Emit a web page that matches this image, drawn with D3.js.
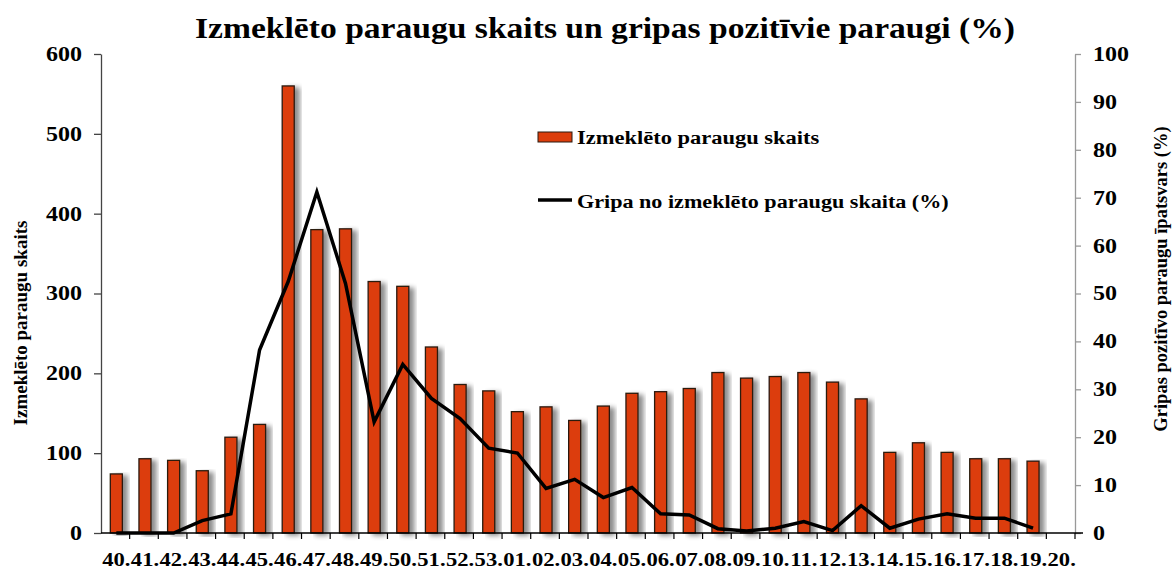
<!DOCTYPE html>
<html>
<head>
<meta charset="utf-8">
<script src="https://cdn.jsdelivr.net/npm/d3@7"></script>
<style>
body { margin: 0; background: #fff; }
svg { display: block; font-family: "Liberation Serif", "Times New Roman", serif; font-weight: bold; }
</style>
</head>
<body>
<svg></svg>
<script>
var weeks = ["40.","41.","42.","43.","44.","45.","46.","47.","48.","49.","50.","51.","52.","53.",
	"01.","02.","03.","04.","05.","06.","07.","08.","09.","10.","11.","12.","13.","14.","15.","16.","17.","18.","19.","20."];
var samples = [74,93,91,78,120,136,560,380,381,315,309,233,186,178,
	152,158,141,159,175,177,181,201,194,196,201,189,168,101,113,101,93,93,90,null];
var positive = [0,0,0,2.6,4.0,38.2,52.5,71.2,52.1,23.2,35.2,28.1,23.9,17.7,
	16.7,9.3,11.2,7.4,9.5,4.0,3.75,0.9,0.4,1.0,2.4,0.5,5.7,1.0,2.9,4.0,3.1,3.1,1.0,null];
var leftTicks = [0,100,200,300,400,500,600];
var rightTicks = [0,10,20,30,40,50,60,70,80,90,100];

var width = 1173, height = 571;
var plotLeft = 101, plotRight = 1075, plotTop = 54, plotBottom = 533;
var barColor = "#dc3d0b";
var sx = 1.2; // the reference glyphs are stretched wide

var svg = d3.select("svg").attr("width", width).attr("height", height);

var defs = svg.append("defs");
var f = defs.append("filter").attr("id", "shadow").attr("x", "-20%").attr("y", "-5%").attr("width", "180%").attr("height", "110%");
f.append("feGaussianBlur").attr("in", "SourceAlpha").attr("stdDeviation", 2.5);
f.append("feOffset").attr("dx", 5).attr("dy", 2).attr("result", "ob");
f.append("feComponentTransfer").append("feFuncA").attr("type", "linear").attr("slope", 0.45);
var m = f.append("feMerge");
m.append("feMergeNode");
m.append("feMergeNode").attr("in", "SourceGraphic");

var x = d3.scaleBand().domain(weeks).range([plotLeft, plotRight]).paddingInner(0).paddingOuter(0);
var yL = d3.scaleLinear().domain([0, 600]).range([plotBottom, plotTop]);
var yR = d3.scaleLinear().domain([0, 100]).range([plotBottom, plotTop]);
var bw = x.bandwidth() * 0.42;

function wideText(g, px, py, str, size, anchor, k){
	return g.append("text")
		.attr("transform", "translate(" + px + "," + py + ") scale(" + k + ",1)")
		.attr("text-anchor", anchor)
		.style("font-size", size + "px")
		.text(str);
}

// title
svg.append("text")
	.attr("x", 605).attr("y", 38)
	.attr("text-anchor", "middle")
	.attr("textLength", 820)
	.attr("lengthAdjust", "spacingAndGlyphs")
	.style("font-size", "30px")
	.text("Izmeklēto paraugu skaits un gripas pozitīvie paraugi (%)");

// bars
svg.append("g").selectAll("rect.bar")
	.data(weeks.map((w, i) => ({w: w, v: samples[i]})).filter(d => d.v != null))
	.enter().append("rect").classed("bar", true)
	.attr("x", d => x(d.w) + x.bandwidth() / 2 - bw / 2 + 1)
	.attr("y", d => yL(d.v))
	.attr("width", bw)
	.attr("height", d => plotBottom - yL(d.v))
	.attr("fill", barColor)
	.attr("stroke", "#2a1a10")
	.attr("stroke-width", 1.3)
	.attr("filter", "url(#shadow)");

// left axis
var gl = svg.append("g").attr("transform", "translate(" + plotLeft + ",0)")
	.call(d3.axisLeft(yL).tickValues(leftTicks).tickSize(7).tickSizeOuter(0));
gl.select(".domain").attr("stroke", "#444").attr("stroke-width", 1.3);
gl.selectAll(".tick line").attr("stroke", "#444").attr("stroke-width", 1.3);
gl.selectAll(".tick text")
	.attr("x", null)
	.attr("transform", "translate(-19,0) scale(" + sx + ",1)")
	.style("font-size", "20px").style("font-family", "Liberation Serif").style("font-weight", "bold").attr("fill", "#000");

// right axis
var gr = svg.append("g").attr("transform", "translate(" + plotRight + ",0)")
	.call(d3.axisRight(yR).tickValues(rightTicks).tickSize(6).tickSizeOuter(0));
gr.select(".domain").attr("stroke", "#999").attr("stroke-width", 1.3);
gr.selectAll(".tick line").attr("stroke", "#999").attr("stroke-width", 1.3);
gr.selectAll(".tick text")
	.attr("x", null)
	.attr("transform", "translate(18,0) scale(" + sx + ",1)")
	.style("font-size", "20px").style("font-family", "Liberation Serif").style("font-weight", "bold").attr("fill", "#000");

// x axis
var gx = svg.append("g").attr("transform", "translate(0," + plotBottom + ")");
gx.append("line").attr("x1", plotLeft).attr("x2", plotRight + 8).attr("stroke", "#000").attr("stroke-width", 1.4);
gx.selectAll("line.tk").data(weeks).enter().append("line").classed("tk", true)
	.attr("x1", d => x(d) + x.bandwidth()).attr("x2", d => x(d) + x.bandwidth())
	.attr("y1", 0).attr("y2", 6).attr("stroke", "#000").attr("stroke-width", 1.2);
weeks.forEach(function(w){
	wideText(gx, x(w) + x.bandwidth() / 2 + 1, 33, w, 19.5, "middle", 1.16);
});

// line
var line = d3.line()
	.defined(d => d.v != null)
	.x(d => x(d.w) + x.bandwidth() / 2 + 1)
	.y(d => yR(d.v));
svg.append("path")
	.datum(weeks.map((w, i) => ({w: w, v: positive[i]})))
	.attr("d", line)
	.attr("fill", "none")
	.attr("stroke", "#000")
	.attr("stroke-width", 3.5)
	.attr("stroke-linejoin", "miter");

// axis titles
svg.append("text")
	.attr("transform", "translate(27,323) rotate(-90)")
	.attr("text-anchor", "middle")
	.style("font-size", "19px")
	.text("Izmeklēto paraugu skaits");
svg.append("text")
	.attr("transform", "translate(1167,279) rotate(-90)")
	.attr("text-anchor", "middle")
	.style("font-size", "18.5px")
	.text("Gripas pozitīvo paraugu īpatsvars (%)");

// legend
var lg = svg.append("g");
lg.append("rect").attr("x", 538).attr("y", 132).attr("width", 34).attr("height", 10)
	.attr("fill", barColor).attr("stroke", "#2a1a10").attr("stroke-width", 1);
wideText(lg, 577, 144, "Izmeklēto paraugu skaits", 18, "start", 1.25);
lg.append("line").attr("x1", 538).attr("x2", 572).attr("y1", 200).attr("y2", 200)
	.attr("stroke", "#000").attr("stroke-width", 3.5);
wideText(lg, 577, 208, "Gripa no izmeklēto paraugu skaita (%)", 18, "start", 1.23);
</script>
</body>
</html>
